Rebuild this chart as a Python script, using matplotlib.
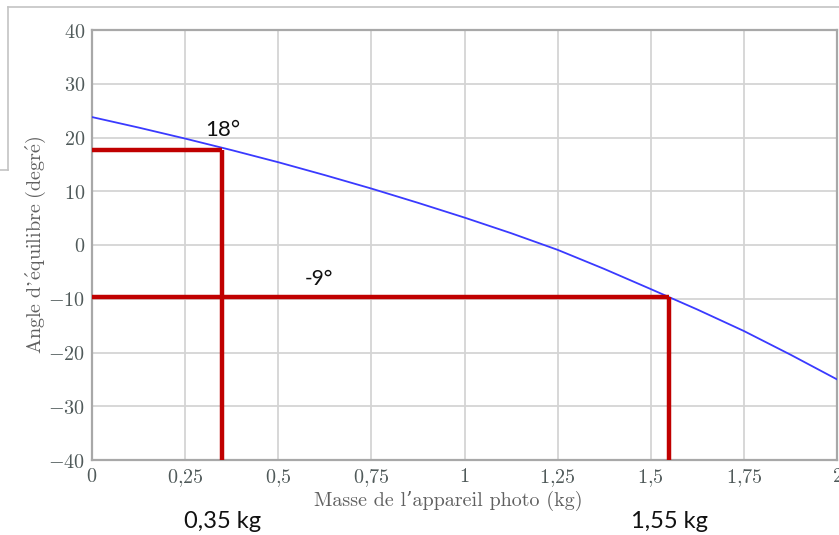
import matplotlib
matplotlib.use("Agg")
import matplotlib.pyplot as plt
from matplotlib.lines import Line2D

plt.rcParams['mathtext.fontset'] = 'cm'

# data
mass = [0, 0.125, 0.25, 0.375, 0.5, 0.625, 0.75, 0.875, 1.0,
        1.125, 1.25, 1.375, 1.5, 1.625, 1.75, 1.875, 2.0]
angle = [23.8, 21.85, 19.8, 17.65, 15.4, 13.0, 10.5, 7.85, 5.1,
         2.2, -0.9, -4.45, -8.2, -12.0, -16.0, -20.4, -25.0]
x_ticks = [0, 0.25, 0.5, 0.75, 1, 1.25, 1.5, 1.75, 2]
x_tick_labels = ["0", "0,25", "0,5", "0,75", "1", "1,25", "1,5", "1,75", "2"]
y_ticks = [-40, -30, -20, -10, 0, 10, 20, 30, 40]
marked_mass = [0.35, 1.55]
marked_angle = [17.6, -9.6]
angle_labels = ["18°", "-9°"]
mass_labels = ["0,35 kg", "1,55 kg"]

W, H = 839, 535
fig = plt.figure(figsize=(W / 100, H / 100), dpi=100)
ax = fig.add_axes([92 / W, 1 - 460 / H, 745 / W, 430 / H])

ax.set_xlim(0, 2)
ax.set_ylim(-40, 40)
ax.set_xticks(x_ticks)
ax.set_xticklabels(["$" + s.replace(",", "{,}") + "$" for s in x_tick_labels])
ax.set_yticks(y_ticks)
ax.set_yticklabels(["$%d$" % v for v in y_ticks])
ax.tick_params(length=0, labelsize=14.5, labelcolor="#505a5a", pad=5)
ax.grid(True, color="#d4d4d4", lw=1.3)
ax.set_axisbelow(True)
for s in ax.spines.values():
    s.set_color("#a8a8a8")
    s.set_linewidth(1.6)

ax.plot(mass, angle, color="#3a3aff", lw=1.3, zorder=3)

red = "#c00000"
for m, a in zip(marked_mass, marked_angle):
    ax.plot([0, m], [a, a], color=red, lw=3.2, zorder=4, solid_capstyle="butt")
    ax.plot([m, m], [a, -40], color=red, lw=3.2, zorder=4, solid_capstyle="butt")

sans = ["Lato", "DejaVu Sans"]
ax.text(0.35, 20.2, angle_labels[0], fontsize=16, family=sans, ha="center", va="baseline", color="#111111")
ax.text(0.61, -7.4, angle_labels[1], fontsize=15, family=sans, ha="center", va="baseline", color="#111111")

for m, lab in zip(marked_mass, mass_labels):
    xf = ax.transData.transform((m, 0))[0] / W
    fig.text(xf, 1 - 522 / H, lab, fontsize=17, family=sans, ha="center", va="center", color="#111111")

serif = ["cmr10", "DejaVu Serif"]
fig.text(448 / W, 1 - 501 / H, "Masse de l\u2019appareil photo (kg)", fontsize=14.5,
         family=serif, ha="center", va="center", color="#606060")
fig.text(36 / W, 1 - 245 / H, r"$\mathrm{Angle\ d\u2019\acute{e}quilibre\ (degr\acute{e})}$".replace("\\u2019", "\u2019"),
         fontsize=14.5, ha="center", va="center", rotation=90, color="#606060")

# screenshot border
border = "#c4c4c4"
fig.add_artist(Line2D([8 / W, 1], [1 - 7 / H, 1 - 7 / H], color=border, lw=1.2))
fig.add_artist(Line2D([8 / W, 8 / W], [1 - 7 / H, 1 - 170 / H], color=border, lw=1.2))
fig.add_artist(Line2D([0, 8 / W], [1 - 170 / H, 1 - 170 / H], color=border, lw=1.2))

fig.savefig("out.png", dpi=100)
